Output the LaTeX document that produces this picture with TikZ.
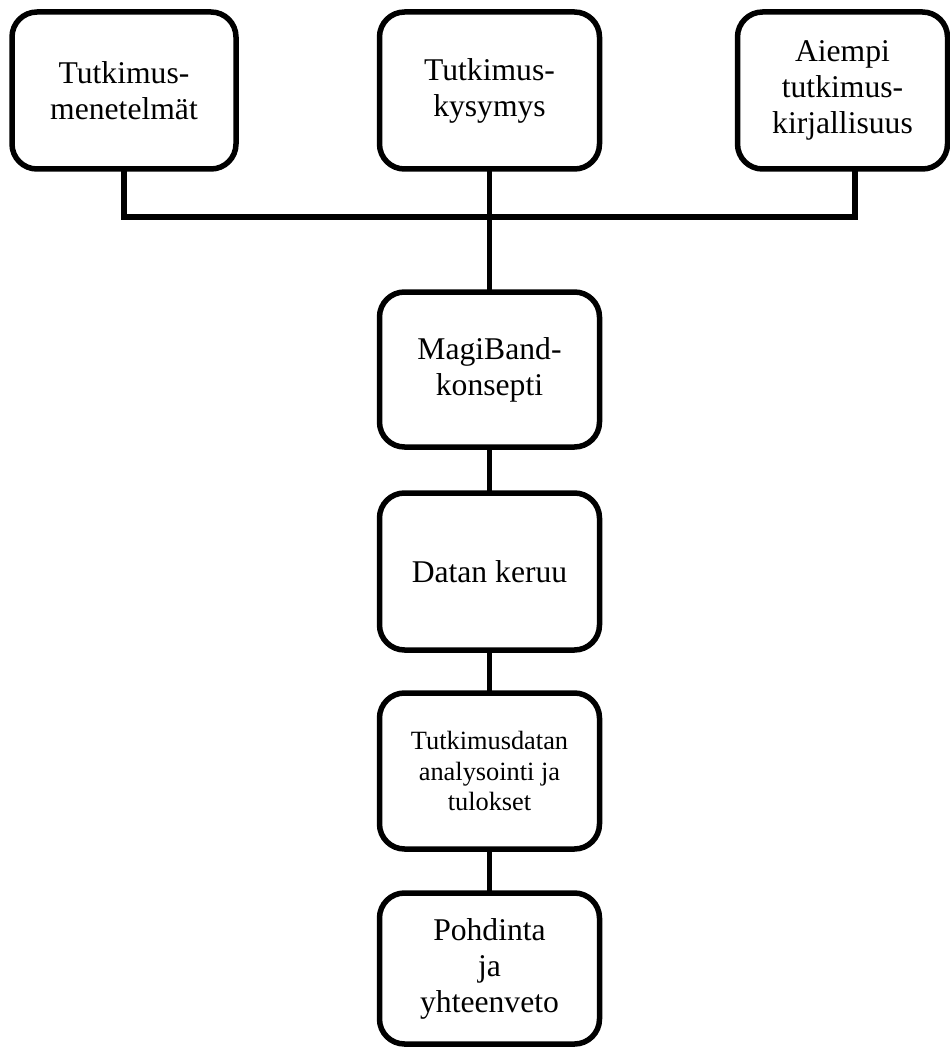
\documentclass[tikz,border=0pt]{standalone}
\usepackage{fontspec}
\setmainfont{Liberation Serif}
\usepackage{tikz}
\usetikzlibrary{positioning}

\begin{document}
\begin{tikzpicture}[
            every node/.style={font=\fontsize{18}{20.5}\selectfont},
            box/.style={rectangle, draw=black, fill=white, rounded corners=0.5cm, line width=0.11cm, outer sep=0pt, inner sep=2pt, align=center, minimum width=4.4cm, minimum height=3.14cm},
            link/.style={line width=0.11cm, color=black}
        ]
            \useasboundingbox (0,0) rectangle (19,-20.96);

            % Nodes
            \node[box] (kysymys) at (9.79,-1.81) {Tutkimus-\\kysymys};
            \node[box, minimum width=4.48cm, left=2.87cm of kysymys] (menetelmat) {Tutkimus-\\menetelmät};
            \node[box, minimum width=4.2cm, right=2.76cm of kysymys] (kirjallisuus) {Aiempi\\tutkimus-\\kirjallisuus};
            \node[box, minimum height=3.1cm, below=2.46cm of kysymys] (konsepti) {MagiBand-\\konsepti};
            \node[box, below=0.92cm of konsepti] (keruu) {Datan keruu};
            \node[box, minimum height=3.12cm, below=0.86cm of keruu, font=\fontsize{15}{17.5}\selectfont] (analyysi) {Tutkimusdatan\\analysointi ja\\tulokset};
            \node[box, minimum height=3.02cm, below=0.88cm of analyysi] (pohdinta) {Pohdinta\\ja\\yhteenveto};
            \coordinate (haaraR) at (17.1,-4.34);

            % Lines
            \draw[link] (menetelmat.south) |- (haaraR) -- (kirjallisuus.south -| haaraR);
            \draw[link] (kysymys) -- (konsepti);
            \draw[link] (konsepti) -- (keruu);
            \draw[link] (keruu) -- (analyysi);
            \draw[link] (analyysi) -- (pohdinta);
        \end{tikzpicture}
\end{document}
